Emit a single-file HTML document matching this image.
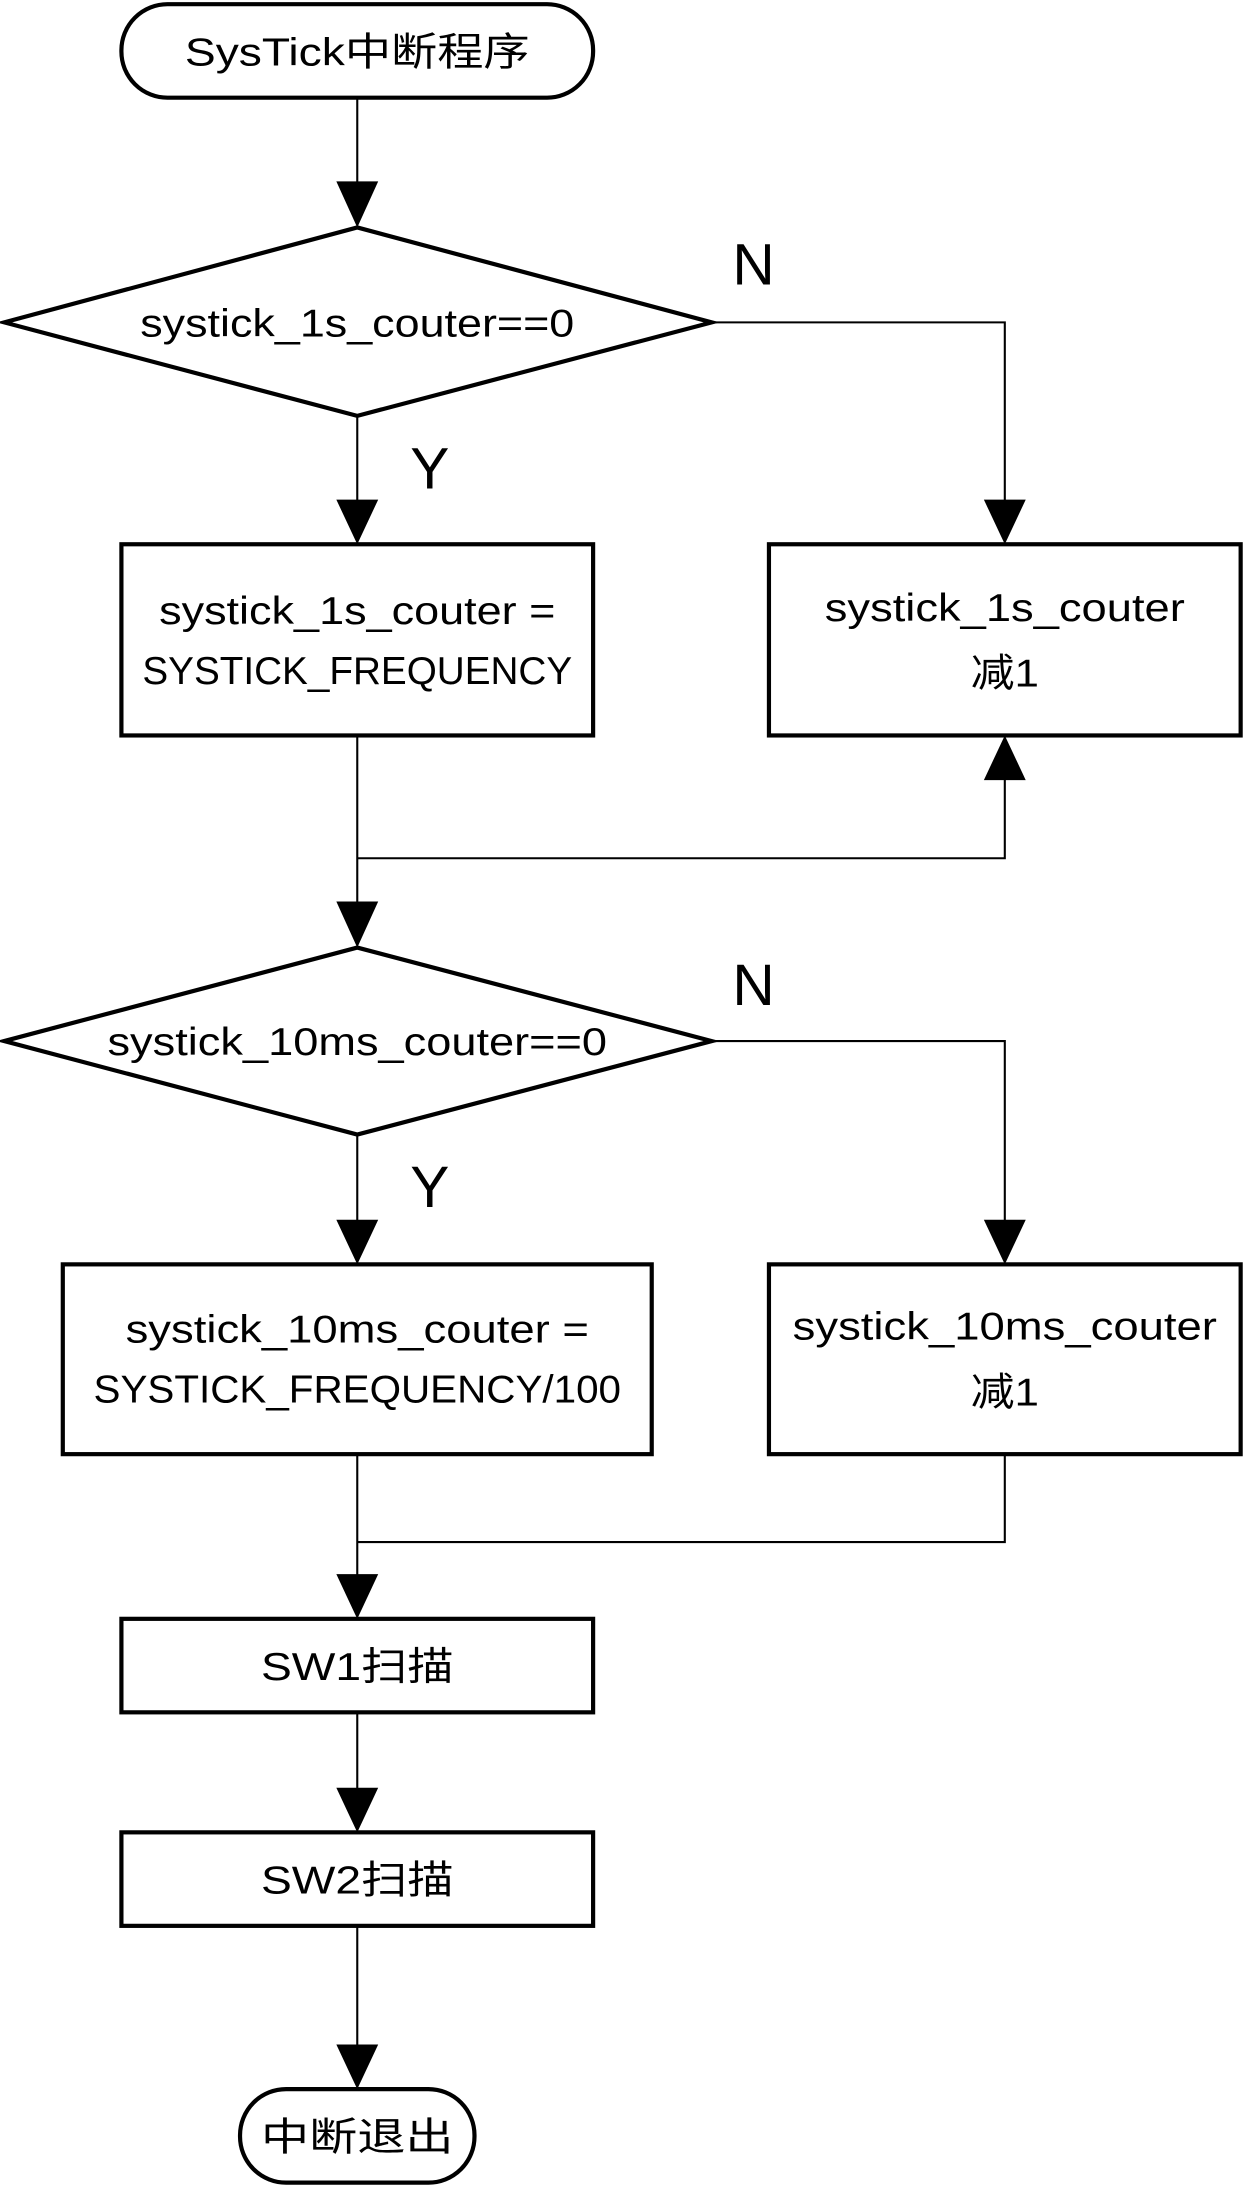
<!DOCTYPE html>
<html><head><meta charset="utf-8"><style>html,body{margin:0;padding:0;background:#fff}svg{display:block}text{font-family:"Liberation Sans","Noto Sans CJK SC",sans-serif;fill:#000}</style></head><body>
<svg width="1256" height="2191" viewBox="0 0 900 1570" preserveAspectRatio="none" xmlns="http://www.w3.org/2000/svg">
<g fill="none" stroke="#000" stroke-width="3">
<rect x="87" y="3" width="338" height="67" rx="33"/>
<polygon points="3,231 256,163 510,231 256,298"/>
<rect x="87" y="390" width="338" height="137"/>
<rect x="551" y="390" width="338" height="137"/>
<polygon points="3,746 256,679 510,746 256,813"/>
<rect x="45" y="906" width="422" height="136"/>
<rect x="551" y="906" width="338" height="136"/>
<rect x="87" y="1160" width="338" height="67"/>
<rect x="87" y="1313" width="338" height="67"/>
<rect x="172" y="1497" width="168" height="67" rx="33"/>
</g>
<g fill="none" stroke="#000" stroke-width="1.5">
<polyline points="256,70 256,132"/>
<polyline points="510,231 720,231 720,360"/>
<polyline points="256,298 256,360"/>
<polyline points="256,527 256,650"/>
<polyline points="256,615 720,615 720,558"/>
<polyline points="510,746 720,746 720,876"/>
<polyline points="256,813 256,876"/>
<polyline points="256,1042 256,1130"/>
<polyline points="720,1042 720,1105 256,1105"/>
<polyline points="256,1227 256,1283"/>
<polyline points="256,1380 256,1467"/>
</g>
<g fill="#000">
<polygon points="241,130 271,130 256,163"/>
<polygon points="705,358 735,358 720,390"/>
<polygon points="241,358 271,358 256,390"/>
<polygon points="705,559 735,559 720,527"/>
<polygon points="241,646 271,646 256,679"/>
<polygon points="705,874 735,874 720,906"/>
<polygon points="241,874 271,874 256,906"/>
<polygon points="241,1128 271,1128 256,1160"/>
<polygon points="241,1281 271,1281 256,1313"/>
<polygon points="241,1465 271,1465 256,1497"/>
</g>
<g font-size="28" text-anchor="middle" lengthAdjust="spacingAndGlyphs">
<text x="256" y="47" textLength="247" lengthAdjust="spacingAndGlyphs">SysTick中断程序</text>
<text x="256" y="241" textLength="311" lengthAdjust="spacingAndGlyphs">systick_1s_couter==0</text>
<text x="256" y="447" textLength="284" lengthAdjust="spacingAndGlyphs">systick_1s_couter =</text>
<text x="256" y="490" textLength="308" lengthAdjust="spacingAndGlyphs">SYSTICK_FREQUENCY</text>
<text x="720" y="445" textLength="258" lengthAdjust="spacingAndGlyphs">systick_1s_couter</text>
<text x="720" y="492" textLength="49" lengthAdjust="spacingAndGlyphs">减1</text>
<text x="256" y="756" textLength="358" lengthAdjust="spacingAndGlyphs">systick_10ms_couter==0</text>
<text x="256" y="962" textLength="332" lengthAdjust="spacingAndGlyphs">systick_10ms_couter =</text>
<text x="256" y="1005" textLength="378" lengthAdjust="spacingAndGlyphs">SYSTICK_FREQUENCY/100</text>
<text x="720" y="960" textLength="304" lengthAdjust="spacingAndGlyphs">systick_10ms_couter</text>
<text x="720" y="1007" textLength="49" lengthAdjust="spacingAndGlyphs">减1</text>
<text x="256" y="1204" textLength="138" lengthAdjust="spacingAndGlyphs">SW1扫描</text>
<text x="256" y="1357" textLength="138" lengthAdjust="spacingAndGlyphs">SW2扫描</text>
<text x="256" y="1541" textLength="138" lengthAdjust="spacingAndGlyphs">中断退出</text>
</g>
<g font-size="42" text-anchor="middle">
<text x="540" y="204">N</text>
<text x="308" y="350">Y</text>
<text x="540" y="720">N</text>
<text x="308" y="865">Y</text>
</g>
</svg>
</body></html>
